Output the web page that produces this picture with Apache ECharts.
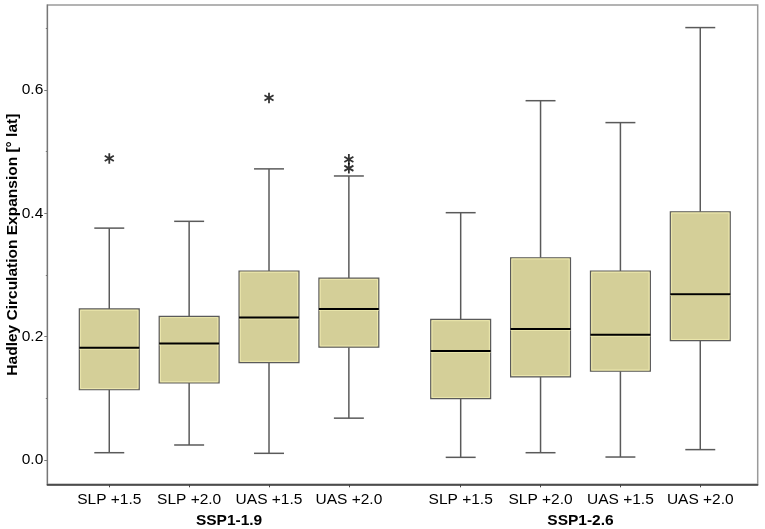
<!DOCTYPE html>
<html>
<head>
<meta charset="UTF-8">
<script src="https://cdn.jsdelivr.net/npm/echarts@6/dist/echarts.min.js"></script>
<style>
  html, body { margin: 0; padding: 0; background: #fff; }
  #main { width: 765px; height: 529px; }
</style>
<title>Hadley Circulation Expansion</title>
</head>
<body>
<div id="main"></div>
<script type="text/javascript">
  // boxplot values (degrees latitude)
  var categories = ['SLP +1.5', 'SLP +2.0', 'UAS +1.5', 'UAS +2.0', 'SLP +1.5', 'SLP +2.0', 'UAS +1.5', 'UAS +2.0'];
  var groups = ['SSP1-1.9', 'SSP1-2.6'];
  var whiskerLow  = [0.012, 0.0245, 0.011, 0.068, 0.0045, 0.012, 0.005, 0.017];
  var q1          = [0.114, 0.125, 0.158, 0.183, 0.0995, 0.135, 0.144, 0.1935];
  var median      = [0.182, 0.189, 0.231, 0.245, 0.177, 0.2125, 0.203, 0.269];
  var q3          = [0.245, 0.233, 0.3065, 0.295, 0.228, 0.328, 0.3065, 0.4025];
  var whiskerHigh = [0.376, 0.387, 0.472, 0.4605, 0.401, 0.5825, 0.547, 0.701];
  // [box index, value]
  var outliers = [[0, 0.489], [2, 0.587], [3, 0.4875], [3, 0.473]];
  var yTicks = [0.0, 0.2, 0.4, 0.6];
  var yMinorTicks = [0.1, 0.3, 0.5, 0.7];

  // x layout: boxes one unit apart, extra gap between the two scenarios
  var groupGap = 0.4;
  function boxPos(i) { return i + 1 + (i >= 4 ? groupGap : 0); }
  var positions = categories.map(function (c, i) { return boxPos(i); });
  var groupPos = [(boxPos(0) + boxPos(3)) / 2, (boxPos(4) + boxPos(7)) / 2];

  var boxData = categories.map(function (c, i) {
    return [positions[i], whiskerLow[i], q1[i], median[i], q3[i], whiskerHigh[i]];
  });
  var outlierData = outliers.map(function (o) { return [positions[o[0]], o[1]]; });

  // six-armed asterisk (three bars at 0, +60 and -60 degrees)
  var asterisk = 'path://M-0.85,-5L0.85,-5L0.85,5L-0.85,5Z' +
    'M3.90,-3.24L4.76,-1.76L-3.90,3.24L-4.76,1.76Z' +
    'M-4.76,-1.76L-3.90,-3.24L4.76,1.76L3.90,3.24Z';

  function renderBox(params, api) {
    var x = api.value(0);
    var pLo = api.coord([x, api.value(1)]);
    var pQ1 = api.coord([x, api.value(2)]);
    var pMed = api.coord([x, api.value(3)]);
    var pQ3 = api.coord([x, api.value(4)]);
    var pHi = api.coord([x, api.value(5)]);
    var hw = api.size([0.75, 0])[0] / 2;
    var cw = api.size([0.375, 0])[0] / 2;
    var cx = pMed[0];
    var wStyle = { stroke: '#5a5a5a', lineWidth: 1.5 };
    return {
      type: 'group',
      children: [
        { type: 'line', shape: { x1: cx, y1: pHi[1], x2: cx, y2: pQ3[1] }, style: wStyle },
        { type: 'line', shape: { x1: cx, y1: pLo[1], x2: cx, y2: pQ1[1] }, style: wStyle },
        { type: 'line', shape: { x1: cx - cw, y1: pHi[1], x2: cx + cw, y2: pHi[1] }, style: wStyle },
        { type: 'line', shape: { x1: cx - cw, y1: pLo[1], x2: cx + cw, y2: pLo[1] }, style: wStyle },
        { type: 'rect', shape: { x: cx - hw, y: pQ3[1], width: hw * 2, height: pQ1[1] - pQ3[1] },
          style: { fill: '#d4cf98', stroke: '#5a5a5a', lineWidth: 1.2 } },
        { type: 'rect', shape: { x: cx - hw + 1.3, y: pQ3[1] + 1.3, width: hw * 2 - 2.6, height: pQ1[1] - pQ3[1] - 2.6 },
          style: { fill: null, stroke: '#f3eeb2', lineWidth: 0.8 } },
        { type: 'line', shape: { x1: cx - hw, y1: pMed[1] + 1.4, x2: cx + hw, y2: pMed[1] + 1.4 },
          style: { stroke: '#f3eeb2', lineWidth: 0.8 } },
        { type: 'line', shape: { x1: cx - hw, y1: pMed[1], x2: cx + hw, y2: pMed[1] },
          style: { stroke: '#000', lineWidth: 2 } }
      ]
    };
  }

  var myChart = echarts.init(document.getElementById('main'));
  var option = {
    animation: false,
    textStyle: { fontFamily: 'Liberation Sans, Arial, sans-serif' },
    grid: {
      left: 47.3, right: 7.3, top: 5, bottom: 44.7,
      outerBoundsMode: 'none', containLabel: false,
      show: true, borderColor: '#9a9a9a', borderWidth: 1.5
    },
    xAxis: [{
      type: 'value', min: 0.224, max: 9.119,
      splitLine: { show: false },
      axisLine: { show: true, onZero: false, lineStyle: { color: '#333', width: 1.5 } },
      axisTick: { show: true, customValues: positions, length: 3, lineStyle: { color: '#444' } },
      axisLabel: {
        customValues: positions, margin: 7, fontSize: 15.5, color: '#000',
        formatter: function (v) {
          for (var i = 0; i < positions.length; i++) {
            if (Math.abs(positions[i] - v) < 1e-6) return categories[i];
          }
          return '';
        }
      }
    }, {
      type: 'value', min: 0.224, max: 9.119, position: 'bottom', offset: 21,
      splitLine: { show: false },
      axisLine: { show: false },
      axisTick: { show: false },
      axisLabel: {
        customValues: groupPos, margin: 7, fontSize: 15.5, fontWeight: 'bold', color: '#000',
        formatter: function (v) { return Math.abs(v - groupPos[0]) < 1e-6 ? groups[0] : groups[1]; }
      }
    }],
    yAxis: [{
      type: 'value', min: -0.0392, max: 0.7376,
      name: 'Hadley Circulation Expansion [° lat]',
      nameLocation: 'middle', nameGap: 27, nameMoveOverlap: false,
      nameTextStyle: { fontSize: 15.5, fontWeight: 'bold', color: '#000' },
      splitLine: { show: false },
      axisLine: { show: true, onZero: false, lineStyle: { color: '#777', width: 1.2 } },
      axisTick: { show: true, customValues: yTicks, length: 3, lineStyle: { color: '#777' } },
      axisLabel: {
        customValues: yTicks, margin: 4, fontSize: 15.5, color: '#000',
        formatter: function (v) { return v.toFixed(1); }
      }
    }, {
      type: 'value', min: -0.0392, max: 0.7376, position: 'left',
      splitLine: { show: false },
      axisLine: { show: false },
      axisTick: { show: true, customValues: yMinorTicks, length: 1.5, lineStyle: { color: '#777' } },
      axisLabel: { show: false }
    }],
    series: [{
      type: 'custom',
      name: 'boxes',
      xAxisIndex: 0, yAxisIndex: 0,
      renderItem: renderBox,
      encode: { x: 0, y: [1, 2, 3, 4, 5] },
      data: boxData,
      z: 2
    }, {
      type: 'scatter',
      name: 'outliers',
      xAxisIndex: 0, yAxisIndex: 0,
      symbol: asterisk,
      symbolKeepAspect: true,
      symbolSize: 10.5,
      itemStyle: { color: '#000' },
      data: outlierData,
      z: 3
    }]
  };
  myChart.setOption(option);
</script>
</body>
</html>
